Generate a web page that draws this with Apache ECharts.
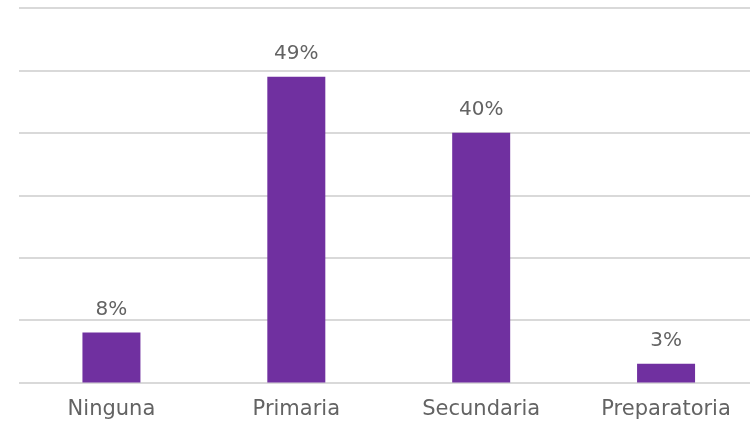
<!DOCTYPE html>
<html><head><meta charset="utf-8">
<script src="https://cdn.jsdelivr.net/npm/echarts@6/dist/echarts.min.js"></script>
<style>html,body{margin:0;padding:0;background:#fff;overflow:hidden}#c{width:760px;height:422px}</style>
</head><body><div id="c"></div>
<script>
const categories = ["Ninguna", "Primaria", "Secundaria", "Preparatoria"];
const values = [8, 49, 40, 3];
const chart = echarts.init(document.getElementById('c'));
chart.setOption({
  animation: false,
  grid: {left: 19, top: 8, right: 1.5, bottom: 39.5},
  xAxis: {
    type: 'category', data: categories,
    axisLine: {show: false}, axisTick: {show: false},
    axisLabel: {color: '#636363', fontSize: 21, fontFamily: 'DejaVu Sans', margin: 17}
  },
  yAxis: {
    type: 'value', min: 0, max: 60, interval: 10,
    axisLabel: {show: false}, axisLine: {show: false}, axisTick: {show: false},
    splitLine: {lineStyle: {color: '#d9d9d9', width: 2}}
  },
  series: [{
    type: 'bar', data: values, barWidth: 58,
    itemStyle: {color: '#7030A0'},
    label: {show: true, position: 'top', distance: 13, formatter: '{c}%', color: '#636363', fontSize: 20, fontFamily: 'DejaVu Sans'}
  }]
});
</script></body></html>
